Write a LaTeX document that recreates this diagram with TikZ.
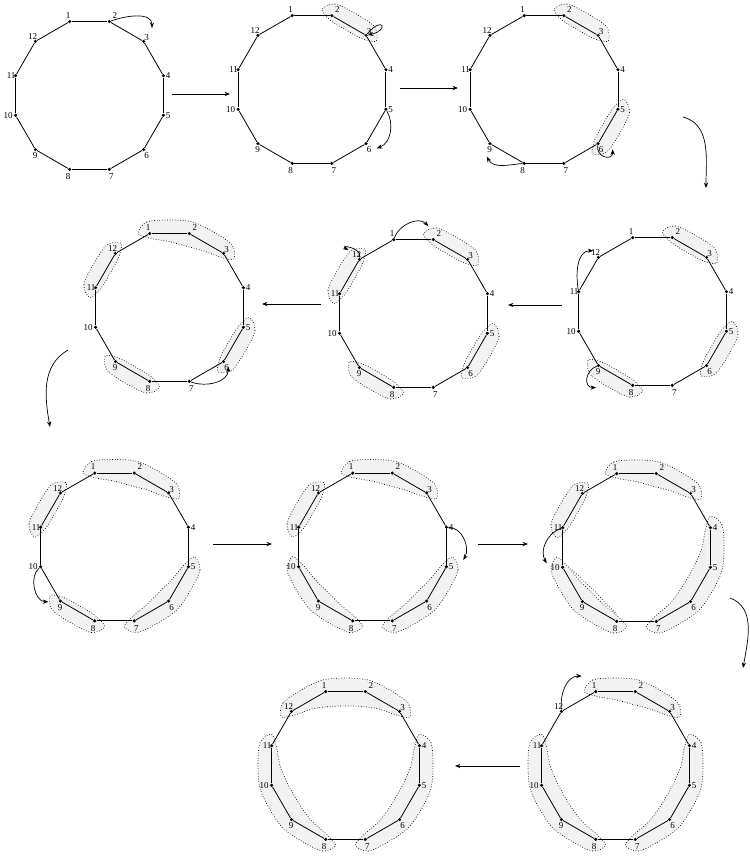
\documentclass[tikz,border=0pt]{standalone}
\usepackage{fontspec}
\setmainfont{Liberation Serif}
\usetikzlibrary{arrows.meta}
\tikzset{
  vtx/.style={circle, fill=black, inner sep=0pt, minimum size=3.4pt},
  lbl/.style={font=\fontsize{9}{10}\selectfont, inner sep=0pt},
  edgeline/.style={line width=0.8pt},
  blobstyle/.style={fill=gray!10, draw=black, line width=0.7pt, dash pattern=on 0.7pt off 1.9pt},
  blobline/.style={draw=black, line width=0.7pt, dash pattern=on 0.7pt off 1.9pt},
  arr/.style={line width=0.7pt, -{Stealth[length=5.5pt,width=4.2pt]}},
}
\newcommand\mkblob[2]{%
  \pgfmathsetmacro\blobta{105-30*(#1-1)}%
  \pgfmathtruncatemacro\blobmm{2*(#2-1)}%
  \pgfmathsetmacro\blobamp{(#2==2)?3:((#2==3)?8:12)}%
  \pgfmathsetmacro\blobtc{\blobta+8}%
  \xdef\blobpts{(\blobtc:80.5)}%
  \foreach \m in {0,...,\blobmm}{%
    \pgfmathsetmacro\blobang{\blobta-15*\m}%
    \pgfmathsetmacro\blobrr{88.5-1*mod(\m,2)}%
    \xdef\blobpts{\blobpts (\blobang:\blobrr)}}%
  \pgfmathsetmacro\blobte{\blobta-15*\blobmm-8}%
  \xdef\blobpts{\blobpts (\blobte:80.5)}%
  \foreach \m in {\blobmm,...,0}{%
    \pgfmathsetmacro\blobang{\blobta-15*\m}%
    \pgfmathsetmacro\blobrr{76.5-5-\blobamp*sin(180*\m/\blobmm)}%
    \xdef\blobpts{\blobpts (\blobang:\blobrr)}}%
  \edef\blobcmd{\noexpand\path[blobstyle] plot[smooth cycle] coordinates {\blobpts};}\blobcmd}
\newcommand\mkinner[2]{%
  \pgfmathsetmacro\blobta{105-30*(#1-1)}%
  \pgfmathtruncatemacro\blobmm{2*(#2-1)}%
  \gdef\blobpts{}%
  \foreach \m in {0,...,\blobmm}{%
    \pgfmathsetmacro\blobang{\blobta-15*\m-3+6*\m/\blobmm}%
    \pgfmathsetmacro\blobrr{76.5-8-8*sin(180*\m/\blobmm)}%
    \xdef\blobpts{\blobpts (\blobang:\blobrr)}}%
  \edef\blobcmd{\noexpand\path[blobline] plot[smooth] coordinates {\blobpts};}\blobcmd}
\newcommand\dgm[4]{%
  \begin{scope}[shift={(#2,{861-#3})}]
    \def\dgmlist{#4}%
    \ifx\dgmlist\empty\else
      \foreach \bs/\bn in {#4} {\mkblob{\bs}{\bn}}%
    \fi
    \foreach \k in {1,...,12} {%
      \pgfmathsetmacro\vang{105-30*(\k-1)}%
      \node[vtx] (#1-\k) at (\vang:76.5) {};}
    \foreach \k [evaluate=\k as \nk using {int(mod(\k,12)+1)}] in {1,...,12}
      {\draw[edgeline] (#1-\k) -- (#1-\nk);}
    \foreach \k/\dx/\dy in {1/-1.7/6.5, 2/5.5/6.5, 3/3/3.5, 4/4.8/0, 5/4.8/0, 6/3/-6,
        7/2/-7.3, 8/-1.7/-7.3, 9/-0.3/-6, 10/-7.5/0, 11/-4.5/0, 12/-2.7/4.7}
      {\node[lbl] (#1-l\k) at ([shift={(\dx,\dy)}]#1-\k) {\k};}
  \end{scope}}
\begin{document}
\begin{tikzpicture}[x=1pt,y=1pt]
\useasboundingbox (0,0) rectangle (749,861);
% row 1
\dgm{a}{89.5}{95.5}{}
\dgm{b}{312}{89.5}{2/2}
\dgm{c}{544}{89.5}{2/2, 5/2}
% row 2
\dgm{f}{652.5}{311.5}{2/2, 5/2, 8/2}
\dgm{e}{413.5}{313.5}{2/2, 5/2, 8/2, 11/2}
\dgm{d}{169.5}{307.5}{1/3, 5/2, 8/2, 11/2}
% row 3
\dgm{g}{114.5}{547}{1/3, 5/3, 8/2, 11/2}
\dgm{h}{372.5}{547}{1/3, 5/3, 8/3, 11/2}
\dgm{i}{636.5}{547.5}{1/3, 4/4, 8/3, 11/2}
\begin{scope}[shift={(636.5,{861-547.5})}]\mkinner{8}{3}\end{scope}
% row 4
\dgm{k}{615.5}{765.5}{1/3, 4/4, 8/4}
\dgm{j}{345.5}{765.5}{12/4, 4/4, 8/4}

% arrows inside diagrams
\draw[arr] ([shift={(9.7,13.6)}]a-2) to[out=20,in=90] ([shift={(8.4,13.4)}]a-3);
\draw[arr] ([shift={(8,16.5)}]b-3) .. controls +(9,4) and +(10,2) .. ([shift={(13,3)}]b-3);
\draw[arr] ([shift={(5.8,-5.7)}]b-5) to[out=-60,in=20] ([shift={(10.6,-4.7)}]b-6);
\draw[arr] ([shift={(1.9,-9.7)}]c-6) to[out=-100,in=-90,looseness=2] ([shift={(14.6,-5.7)}]c-6);
\draw[arr] ([shift={(-9.2,-9.3)}]c-8) to[out=185,in=-60] ([shift={(-3.2,-13.1)}]c-9);
\draw[arr] ([shift={(-8.6,11.7)}]f-11) to[out=100,in=180] ([shift={(-5.1,6.7)}]f-12);
\draw[arr] ([shift={(-7.3,-4)}]f-9) to[out=200,in=180,looseness=1.5] ([shift={(-2.3,-22)}]f-9);
\draw[arr] ([shift={(0.6,12.7)}]e-12) to[out=80,in=150,looseness=2] ([shift={(-11.1,9.4)}]e-12);
\draw[arr] ([shift={(1.3,13.6)}]e-1) to[out=70,in=135] ([shift={(-5,13.6)}]e-2);
\draw[arr] ([shift={(9,-8.6)}]d-7) to[out=-20,in=-90] ([shift={(4.7,-5.1)}]d-6);
\draw[arr] ([shift={(-3.9,-6.2)}]g-10) to[out=220,in=180] ([shift={(-12,-0.6)}]g-9);
\draw[arr] ([shift={(8.6,0.5)}]h-4) to[out=0,in=60] ([shift={(16.9,6.8)}]h-5);
\draw[arr] ([shift={(-5.9,-2.3)}]i-11) to[out=200,in=120] ([shift={(-15.9,4)}]i-10);
\draw[arr] ([shift={(-4.7,4.7)}]k-12) to[out=95,in=180] ([shift={(-14,15.6)}]k-1);

% arrows between diagrams
\coordinate (ab1) at (172,767); \coordinate (ab2) at (230,767);
\coordinate (bc1) at (400,773); \coordinate (bc2) at (458,773);
\coordinate (cf1) at (683,744); \coordinate (cf2) at (706,673);
\coordinate (fe1) at (562,556); \coordinate (fe2) at (508,556);
\coordinate (ed1) at (321,557); \coordinate (ed2) at (262,557);
\coordinate (dg1) at (68,511);  \coordinate (dg2) at (50,434);
\coordinate (gh1) at (213,317); \coordinate (gh2) at (272,317);
\coordinate (hi1) at (478,317); \coordinate (hi2) at (528,317);
\coordinate (ik1) at (730,263); \coordinate (ik2) at (743,193);
\coordinate (kj1) at (520,95);  \coordinate (kj2) at (455,95);
\draw[arr] (ab1) -- (ab2);
\draw[arr] (bc1) -- (bc2);
\draw[arr] (cf1) to[out=-15,in=90] (cf2);
\draw[arr] (fe1) -- (fe2);
\draw[arr] (ed1) -- (ed2);
\draw[arr] (dg1) to[out=210,in=100] (dg2);
\draw[arr] (gh1) -- (gh2);
\draw[arr] (hi1) -- (hi2);
\draw[arr] (ik1) to[out=-20,in=80] (ik2);
\draw[arr] (kj1) -- (kj2);
\end{tikzpicture}
\end{document}
